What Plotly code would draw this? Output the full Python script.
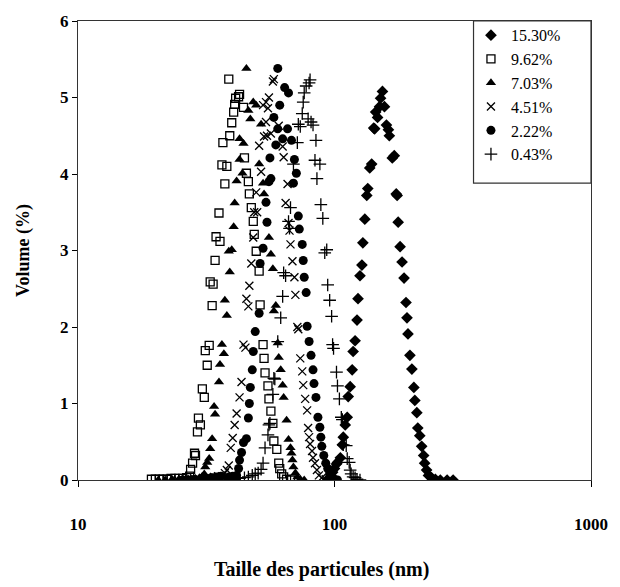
import plotly.graph_objects as go

# Particle size distributions (volume %) for six concentrations
size_1530 = [94.1, 96.6, 98.3, 100.0, 101.8, 102.7, 105.4, 107.3, 108.2, 110.1, 112.1, 113.1, 115.1, 117.2,
             118.2, 120.3, 122.4, 123.5, 125.7, 127.9, 129.0, 131.3, 133.6, 134.8, 137.2, 139.6, 142.2, 143.4,
             144.7, 147.2, 149.8, 151.2, 153.8, 156.6, 159.4, 162.2, 163.6, 168.0, 171.0, 174.0, 175.5, 177.1,
             180.2, 183.4, 186.7, 190.0, 191.7, 193.4, 196.8, 200.3, 203.9, 205.7, 209.4, 211.2, 215.0, 218.7,
             222.6, 224.6, 228.6, 232.5, 238.8, 247.3, 258.5, 274.8, 290.0]
vol_1530 = [0.01, 0.05, 0.10, 0.15, 0.21, 0.23, 0.29, 0.46, 0.56, 0.72, 0.82, 1.09, 1.22, 1.44,
            1.68, 1.82, 2.09, 2.37, 2.67, 2.81, 3.10, 3.41, 3.72, 3.81, 4.08, 4.13, 4.60, 4.59,
            4.81, 4.74, 4.88, 4.99, 5.08, 4.88, 4.64, 4.58, 4.50, 4.21, 4.24, 3.74, 3.72, 3.37,
            3.05, 2.85, 2.64, 2.32, 2.12, 1.91, 1.63, 1.45, 1.21, 1.04, 0.88, 0.68, 0.58, 0.44,
            0.32, 0.22, 0.13, 0.06, 0.03, 0.01, 0.00, 0.00, 0.00]

size_962 = [19.33, 20.03, 20.74, 21.48, 22.25, 23.05, 23.87, 24.73, 25.61, 26.53, 27.24, 27.48, 27.97, 28.46,
            28.71, 29.22, 29.48, 30.00, 30.53, 31.07, 31.35, 31.90, 32.47, 32.76, 33.34, 33.63, 34.23, 34.53,
            35.45, 35.77, 36.40, 36.72, 37.37, 38.04, 39.05, 38.71, 39.75, 40.45, 40.81, 41.17, 42.27, 42.64,
            44.17, 44.56, 45.35, 46.15, 46.56, 47.39, 48.23, 48.65, 49.52, 50.84, 51.29, 52.66, 53.13, 53.60,
            55.03, 55.52, 56.50, 57.51, 58.02, 59.57, 60.62, 61.16, 62.24, 63.35, 65.04, 67.37]
vol_962 = [0.01, 0.01, 0.01, 0.01, 0.01, 0.02, 0.02, 0.02, 0.02, 0.03, 0.05, 0.14, 0.22, 0.35,
           0.32, 0.63, 0.81, 0.72, 1.19, 1.08, 1.69, 1.50, 1.76, 2.59, 2.28, 2.56, 2.87, 3.18,
           3.49, 3.12, 4.12, 4.41, 3.87, 4.10, 4.50, 5.24, 4.67, 4.81, 4.91, 4.99, 5.01, 5.04,
           4.87, 4.21, 4.01, 3.90, 3.74, 3.56, 3.38, 3.21, 2.99, 2.73, 2.29, 1.77, 1.59, 1.40,
           1.23, 1.06, 0.90, 0.74, 0.51, 0.40, 0.22, 0.15, 0.08, 0.04, 0.01, 0.00]

size_703 = [20.56, 21.87, 23.25, 24.73, 26.30, 27.72, 28.71, 29.74, 30.53, 31.07, 31.35, 31.90, 32.47, 32.76,
            33.34, 33.93, 34.23, 35.45, 35.77, 36.40, 37.05, 37.37, 38.04, 39.05, 38.71, 39.75, 40.45, 40.81,
            41.53, 42.64, 43.78, 42.64, 44.17, 46.15, 46.97, 45.35, 48.23, 49.52, 51.74, 50.84, 52.66, 53.13,
            55.52, 56.50, 57.51, 59.04, 58.02, 60.09, 60.62, 61.70, 62.79, 63.35, 65.04, 66.19, 67.37, 67.96,
            68.56, 69.17, 70.39, 71.64, 73.55, 76.19]
vol_703 = [0.00, 0.00, 0.01, 0.01, 0.01, 0.01, 0.02, 0.03, 0.05, 0.08, 0.17, 0.23, 0.28, 0.41,
           0.54, 0.96, 0.86, 1.28, 1.51, 1.77, 1.65, 2.35, 2.15, 2.72, 2.99, 3.01, 3.31, 3.62,
           3.91, 4.19, 4.01, 4.46, 4.40, 4.83, 4.72, 5.38, 4.94, 4.90, 4.65, 4.13, 3.88, 3.74,
           3.17, 2.95, 2.76, 2.28, 2.21, 1.79, 1.60, 1.44, 1.24, 1.08, 0.78, 0.53, 0.42, 0.35,
           0.26, 0.17, 0.09, 0.04, 0.01, 0.00]

size_451 = [24.51, 26.07, 27.72, 29.48, 31.07, 32.47, 33.93, 35.14, 36.40, 37.37, 38.04, 38.71, 39.40, 40.10,
            40.81, 41.53, 42.64, 43.40, 44.17, 44.95, 45.35, 46.15, 46.56, 47.39, 48.23, 48.65, 49.95, 49.52,
            51.74, 50.84, 53.13, 54.55, 56.50, 54.07, 52.66, 54.07, 55.52, 55.03, 57.51, 58.02, 60.62, 62.79,
            63.35, 65.61, 64.47, 66.19, 66.78, 67.37, 68.56, 69.78, 70.39, 71.64, 72.27, 73.55, 74.86, 75.52,
            76.86, 78.22, 78.91, 79.61, 80.31, 81.74, 82.46, 83.92, 85.41, 86.93, 89.25, 92.44, 95.75]
vol_451 = [0.00, 0.00, 0.01, 0.01, 0.02, 0.03, 0.04, 0.05, 0.05, 0.09, 0.13, 0.19, 0.42, 0.55,
           0.72, 0.87, 1.08, 1.28, 1.77, 1.73, 2.37, 2.27, 2.54, 2.83, 3.17, 3.50, 3.50, 3.76,
           4.03, 4.37, 4.49, 4.50, 4.53, 4.68, 4.90, 4.94, 5.00, 4.86, 5.21, 5.24, 4.63, 4.36,
           4.22, 3.87, 3.62, 3.36, 3.26, 3.08, 2.86, 2.65, 2.42, 2.00, 1.97, 1.59, 1.42, 1.24,
           1.06, 0.91, 0.68, 0.56, 0.47, 0.38, 0.29, 0.22, 0.13, 0.06, 0.03, 0.01, 0.00]

size_222 = [25.61, 27.00, 28.46, 30.00, 31.62, 33.05, 34.53, 36.08, 38.71, 40.10, 41.53, 42.27, 42.64, 43.40,
            44.17, 45.35, 46.15, 46.56, 46.97, 47.80, 48.23, 49.08, 50.84, 51.29, 52.66, 54.55, 54.07, 55.52,
            56.50, 56.01, 58.02, 59.04, 60.09, 61.16, 60.09, 63.91, 66.19, 62.79, 65.61, 67.96, 69.78, 71.01,
            69.17, 72.27, 72.91, 74.86, 75.52, 76.19, 77.54, 78.22, 79.61, 81.02, 82.46, 83.19, 84.66, 86.17,
            87.69, 88.47, 89.25, 90.83, 92.44, 94.08, 95.75, 97.45, 100.0, 102.7]
vol_222 = [0.00, 0.00, 0.01, 0.01, 0.02, 0.03, 0.04, 0.05, 0.04, 0.05, 0.06, 0.15, 0.26, 0.36,
           0.49, 0.54, 0.81, 1.00, 1.21, 1.44, 1.68, 1.94, 2.18, 2.83, 3.03, 3.37, 3.63, 3.90,
           3.94, 4.21, 4.74, 4.38, 4.59, 4.90, 5.38, 5.13, 5.06, 4.46, 4.59, 4.44, 4.19, 4.01,
           3.88, 3.45, 3.28, 3.08, 2.87, 2.65, 2.45, 2.01, 1.81, 1.63, 1.44, 1.26, 1.08, 0.82,
           0.69, 0.56, 0.44, 0.32, 0.22, 0.15, 0.09, 0.04, 0.01, 0.00]

size_043 = [37.37, 39.05, 40.81, 42.64, 44.56, 46.15, 47.80, 49.08, 50.40, 51.74, 52.66, 53.60, 55.03, 55.52,
            56.01, 57.51, 58.02, 58.53, 60.09, 61.70, 62.79, 63.35, 64.47, 66.19, 66.78, 67.37, 69.17, 71.64,
            72.27, 73.55, 74.86, 75.52, 76.19, 77.54, 79.61, 80.31, 78.91, 81.02, 82.46, 84.66, 83.92, 87.69,
            85.41, 88.47, 90.04, 91.63, 93.26, 94.08, 95.75, 97.45, 98.31, 99.14, 101.8, 102.7, 104.5, 106.3,
            107.3, 108.2, 111.1, 112.1, 114.1, 115.1, 116.1, 118.2, 120.3, 122.4, 125.7]
vol_043 = [0.00, 0.00, 0.01, 0.02, 0.03, 0.04, 0.06, 0.08, 0.09, 0.14, 0.22, 0.42, 0.59, 0.72,
           0.74, 1.12, 1.33, 1.32, 1.81, 2.12, 2.40, 2.71, 2.67, 3.38, 3.29, 3.56, 4.13, 4.41,
           4.65, 4.62, 4.79, 4.94, 5.06, 5.15, 5.19, 5.23, 4.72, 4.68, 4.64, 4.44, 4.18, 4.13,
           3.94, 3.60, 3.42, 2.97, 3.01, 2.55, 2.35, 2.14, 1.77, 1.72, 1.41, 1.23, 1.06, 0.82,
           0.79, 0.46, 0.45, 0.28, 0.23, 0.13, 0.08, 0.04, 0.03, 0.01, 0.00]

labels = ["15.30%", "9.62%", "7.03%", "4.51%", "2.22%", "0.43%"]
sizes = [size_1530, size_962, size_703, size_451, size_222, size_043]
volumes = [vol_1530, vol_962, vol_703, vol_451, vol_222, vol_043]

markers = [
    dict(symbol="diamond", size=9, color="black"),
    dict(symbol="square-open", size=8, color="black", line=dict(color="black", width=1.3)),
    dict(symbol="triangle-up", size=9, color="black"),
    dict(symbol="x-thin-open", size=8, color="black", line=dict(color="black", width=1.3)),
    dict(symbol="circle", size=9, color="black"),
    dict(symbol="cross-thin-open", size=9, color="black", line=dict(color="black", width=1.3)),
]

fig = go.Figure()
for name, xs, ys, mk in zip(labels, sizes, volumes, markers):
    fig.add_trace(go.Scatter(x=xs, y=ys, mode="markers", name=name, marker=mk))

serif = "Liberation Serif, Times New Roman, serif"

# legend frame drawn as a paper-anchored rectangle in the upper-right corner
fig.add_shape(type="rect", xref="paper", yref="paper",
              x0=0.771, x1=1.0, y0=0.647, y1=1.0,
              line=dict(color="#333333", width=1.2), fillcolor="white", layer="below")

fig.add_annotation(text="<b>Taille des particules (nm)</b>", xref="paper", yref="paper",
                   x=0.475, y=-0.195, xanchor="center", yanchor="middle", showarrow=False,
                   font=dict(family=serif, size=20, color="black"))

fig.update_layout(
    width=620, height=587,
    margin=dict(l=78, r=19, t=13, b=107),
    paper_bgcolor="white", plot_bgcolor="white",
    font=dict(family=serif, color="black"),
    showlegend=True,
    legend=dict(
        x=0.766, y=1.006, xanchor="left", yanchor="top",
        borderwidth=0, bgcolor="rgba(0,0,0,0)",
        font=dict(family=serif, size=16, color="black"),
        itemwidth=30, tracegroupgap=0,
    ),
    xaxis=dict(
        type="log", range=[1, 3],
        tickvals=[10, 100, 1000], ticktext=["10", "100", "1000"],
        ticks="outside", ticklen=6, tickcolor="black",
        showgrid=False, zeroline=False,
        showline=True, linecolor="#333333", linewidth=1.2, mirror=True,
        tickfont=dict(family=serif, size=17, color="black", weight="bold"),
        ticklabelstandoff=22,
    ),
    yaxis=dict(
        range=[0, 6], dtick=1,
        ticks="outside", ticklen=5, tickcolor="black",
        showgrid=False, zeroline=False,
        showline=True, linecolor="#333333", linewidth=1.2, mirror=True,
        tickfont=dict(family=serif, size=17, color="black", weight="bold"),
        title=dict(text="<b>Volume (%)</b>", font=dict(family=serif, size=18), standoff=25),
    ),
)

fig.write_html("out.html")
